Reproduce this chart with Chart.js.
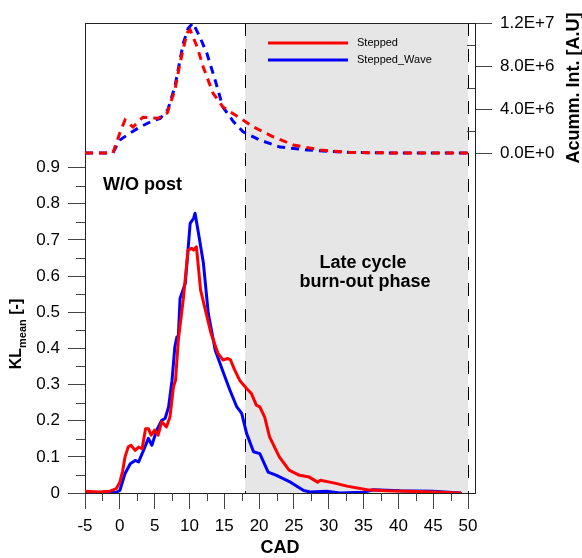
<!DOCTYPE html>
<html>
<head>
<meta charset="utf-8">
<script src="https://cdn.jsdelivr.net/npm/chart.js@4.4.1/dist/chart.umd.min.js"></script>
<style>
  body { margin: 0; background: #fff; }
  canvas { display: block; }
</style>
</head>
<body>
<canvas id="klChart" width="582" height="558"></canvas>
<script>
// KL mean [-] (solid lines, left axis)
const steppedCad = [-5, -3, -1.4, -0.5, 0, 0.4, 0.75, 1.2, 1.6, 2.2, 2.7, 3.2, 3.7, 4.1, 4.5, 5.0, 5.5, 6.0, 6.7, 7.2, 7.7, 8.0, 8.4, 9.1, 9.8, 10.3, 10.6, 11.0, 11.6, 12.4, 13.1, 14.1, 14.8, 15.5, 15.9, 16.5, 17.2, 18.2, 18.9, 19.6, 20.1, 20.8, 21.5, 22.9, 24.3, 25.8, 27.2, 28.4, 28.8, 30.7, 32.6, 35.5, 38.3, 42.7, 45, 48.9];
const steppedKl = [0.005, 0.003, 0.005, 0.012, 0.03, 0.06, 0.1, 0.127, 0.132, 0.118, 0.127, 0.123, 0.178, 0.178, 0.16, 0.174, 0.16, 0.197, 0.183, 0.21, 0.294, 0.312, 0.423, 0.534, 0.672, 0.677, 0.672, 0.681, 0.561, 0.497, 0.441, 0.386, 0.368, 0.372, 0.368, 0.34, 0.312, 0.289, 0.275, 0.243, 0.238, 0.21, 0.155, 0.1, 0.063, 0.049, 0.044, 0.03, 0.035, 0.028, 0.019, 0.009, 0.006, 0.004, 0.003, 0.0];
const waveCad = [-5, -1.4, -0.5, 0, 0.75, 1.5, 2.2, 2.7, 3.4, 4.1, 4.6, 5.3, 6.0, 6.5, 7.0, 7.5, 7.9, 8.2, 8.4, 8.65, 9.4, 10.1, 10.6, 10.8, 11.3, 12.0, 12.7, 13.7, 14.9, 15.8, 16.8, 17.5, 18.2, 19.2, 20.1, 21.3, 22.5, 24.5, 26.4, 27.3, 29.7, 31.6, 35, 36.4, 40.3, 45, 48.9];
const waveKl = [0, 0, 0.002, 0.007, 0.054, 0.081, 0.09, 0.086, 0.118, 0.151, 0.132, 0.174, 0.201, 0.206, 0.238, 0.312, 0.404, 0.432, 0.432, 0.538, 0.58, 0.746, 0.76, 0.774, 0.718, 0.636, 0.497, 0.395, 0.331, 0.285, 0.238, 0.22, 0.165, 0.114, 0.109, 0.058, 0.049, 0.03, 0.007, 0.003, 0.005, 0.0, 0.002, 0.009, 0.006, 0.005, 0.0];

// Acumm. Int. [A.U] (dashed lines, right axis)
const steppedIntCad = [-5, -1, 0, 0.75, 1.9, 3.3, 5.5, 6.8, 7.9, 8.65, 9.65, 10.1, 11.1, 12.0, 13.4, 14.8, 17.3, 19.2, 22.0, 24.9, 28.8, 33, 40, 50];
const steppedInt = [0, 0, 1.85e6, 3.05e6, 2.4e6, 3.3e6, 3.2e6, 3.7e6, 5.8e6, 8.3e6, 11.1e6, 11.35e6, 9.8e6, 7.9e6, 5.5e6, 4.25e6, 3.2e6, 2.4e6, 1.5e6, 0.74e6, 0.28e6, 0.05e6, 0, 0];
const waveIntCad = [-5, -1, 0, 1.5, 2.9, 4.8, 5.8, 6.9, 7.9, 9.1, 9.8, 10.5, 11.5, 12.5, 13.7, 14.8, 16.3, 17.7, 20.1, 23.0, 26.9, 33, 40, 50];
const waveInt = [0, 0, 1.2e6, 1.85e6, 2.4e6, 3.0e6, 3.2e6, 4.0e6, 6.1e6, 10.1e6, 11.5e6, 12.0e6, 10.7e6, 9.2e6, 6.7e6, 4.25e6, 2.9e6, 1.95e6, 1.2e6, 0.55e6, 0.28e6, 0.05e6, 0, 0];

// right axis only covers the top band of the plot
const rightTicks = [0, 2e6, 4e6, 6e6, 8e6, 10e6, 12e6];
const lateCycle = [18, 50];
const seriesNames = ['Stepped', 'Stepped_Wave'];
const RED = 'rgb(255,0,0)';
const BLUE = 'rgb(0,0,255)';
const FONT = '"Liberation Sans", Arial, sans-serif';

function pts(xs, ys) {
    return xs.map((x, i) => ({x: x, y: ys[i]}));
}
function isMult(v, step) {
    return Math.abs(v / step - Math.round(v / step)) < 1e-6;
}

// shaded late cycle zone with dashed limits
const phasePlugin = {
    id: 'phase',
    beforeDatasetsDraw(chart) {
        const ctx = chart.ctx, a = chart.chartArea, x = chart.scales.x;
        const x0 = x.getPixelForValue(lateCycle[0]);
        const x1 = x.getPixelForValue(lateCycle[1]);
        ctx.save();
        ctx.fillStyle = '#e6e6e6';
        ctx.fillRect(x0, a.top, x1 - x0, a.bottom - a.top);
        ctx.strokeStyle = '#000';
        ctx.lineWidth = 1;
        ctx.setLineDash([13, 13]);
        [x0, x1].forEach(px => {
            ctx.beginPath();
            ctx.moveTo(Math.round(px) + 0.5, a.top);
            ctx.lineTo(Math.round(px) + 0.5, a.bottom);
            ctx.stroke();
        });
        ctx.restore();
    }
};

// minor ticks, frame, titles, notes, legend
const extrasPlugin = {
    id: 'extras',
    afterDraw(chart) {
        const ctx = chart.ctx, a = chart.chartArea;
        const x = chart.scales.x, y = chart.scales.y, y2 = chart.scales.y2;
        ctx.save();
        ctx.strokeStyle = '#444';
        ctx.lineWidth = 1;
        ctx.beginPath();
        for (let v = -2.5; v < 50; v += 5) {
            const px = Math.round(x.getPixelForValue(v)) + 0.5;
            ctx.moveTo(px, a.bottom); ctx.lineTo(px, a.bottom + 8);
        }
        for (let v = 0.05; v < 0.9; v += 0.1) {
            const py = Math.round(y.getPixelForValue(v)) + 0.5;
            ctx.moveTo(a.left - 9, py); ctx.lineTo(a.left, py);
        }
        rightTicks.filter(v => !isMult(v, 4e6)).forEach(v => {
            const py = Math.round(y2.getPixelForValue(v)) + 0.5;
            ctx.moveTo(a.right - 8, py); ctx.lineTo(a.right, py);
        });
        ctx.stroke();
        // top frame line
        ctx.strokeStyle = '#222';
        ctx.beginPath();
        ctx.moveTo(a.left, a.top + 0.5); ctx.lineTo(a.right, a.top + 0.5);
        ctx.stroke();

        ctx.fillStyle = '#000';
        // x title
        ctx.font = 'bold 18px ' + FONT;
        ctx.textAlign = 'center';
        ctx.textBaseline = 'middle';
        ctx.fillText('CAD', (a.left + a.right) / 2, 548);

        // left title KL_mean [-]
        ctx.save();
        ctx.translate(17, 334);
        ctx.rotate(-Math.PI / 2);
        ctx.textBaseline = 'middle';
        ctx.textAlign = 'left';
        const big = 'bold 16px ' + FONT, small = 'bold 11px ' + FONT;
        ctx.font = big; const wKL = ctx.measureText('KL').width;
        const wRest = ctx.measureText(' [-]').width;
        ctx.font = small; const wSub = ctx.measureText('mean').width;
        let sx = -(wKL + wSub + wRest) / 2;
        ctx.font = big; ctx.fillText('KL', sx, 0); sx += wKL;
        ctx.font = small; ctx.fillText('mean', sx, 6); sx += wSub;
        ctx.font = big; ctx.fillText(' [-]', sx, 0);
        ctx.restore();

        // right title
        ctx.save();
        ctx.translate(574, (y2.getPixelForValue(0) + y2.getPixelForValue(1.2e7)) / 2);
        ctx.rotate(-Math.PI / 2);
        ctx.font = 'bold 18px ' + FONT;
        ctx.textAlign = 'center';
        ctx.textBaseline = 'middle';
        ctx.fillText('Acumm. Int. [A.U]', 0, 0);
        ctx.restore();

        // notes
        ctx.textBaseline = 'alphabetic';
        ctx.font = 'bold 18px ' + FONT;
        ctx.textAlign = 'left';
        ctx.fillText('W/O post', 103, 190);
        ctx.textAlign = 'center';
        ctx.fillText('Late cycle', 363, 268);
        ctx.fillText('burn-out phase', 365, 287);

        // legend
        ctx.font = '11px ' + FONT;
        ctx.textAlign = 'left';
        ctx.textBaseline = 'middle';
        ctx.lineWidth = 3;
        [0, 1].forEach(i => {
            const ly = 43 + i * 17;
            ctx.strokeStyle = chart.data.datasets[i].borderColor;
            ctx.beginPath(); ctx.moveTo(268, ly); ctx.lineTo(348, ly); ctx.stroke();
            ctx.fillText(seriesNames[i], 357, ly);
        });
        ctx.restore();
    }
};

const tickFont = {family: FONT, size: 17};
const solid = {borderWidth: 3, borderJoinStyle: 'round', borderCapStyle: 'round'};

const config = {
    type: 'line',
    data: {
        datasets: [
            {label: seriesNames[0], data: pts(steppedCad, steppedKl), yAxisID: 'y', borderColor: RED, ...solid},
            {label: seriesNames[1], data: pts(waveCad, waveKl), yAxisID: 'y', borderColor: BLUE, ...solid},
            {label: 'Stepped int', data: pts(steppedIntCad, steppedInt), yAxisID: 'y2', borderColor: RED, borderWidth: 3, borderDash: [8, 6]},
            {label: 'Stepped_Wave int', data: pts(waveIntCad, waveInt), yAxisID: 'y2', borderColor: BLUE, borderWidth: 3, borderDash: [8, 6]}
        ]
    },
    options: {
        responsive: false,
        animation: false,
        devicePixelRatio: 1,
        layout: {padding: {top: 23, left: 0, right: 0, bottom: 0}},
        elements: {point: {radius: 0}, line: {tension: 0, fill: false}},
        scales: {
            x: {
                type: 'linear',
                min: -5,
                max: 51,
                afterFit: s => { s.height = 65; },
                border: {display: true, color: '#222', width: 1},
                grid: {
                    drawOnChartArea: false,
                    tickLength: 16,
                    tickColor: c => isMult(c.tick.value, 5) ? '#444' : 'rgba(0,0,0,0)'
                },
                ticks: {
                    stepSize: 2.5,
                    includeBounds: false,
                    autoSkip: false,
                    maxRotation: 0,
                    padding: 7,
                    color: '#000',
                    font: tickFont,
                    callback: v => isMult(v, 5) ? String(v) : ''
                }
            },
            y: {
                type: 'linear',
                position: 'left',
                min: 0,
                max: 1.3,
                afterFit: s => { s.width = 85; },
                border: {display: true, color: '#222', width: 1},
                grid: {
                    drawOnChartArea: false,
                    tickLength: 17,
                    tickColor: c => (isMult(c.tick.value, 0.1) && c.tick.value < 0.95) ? '#444' : 'rgba(0,0,0,0)'
                },
                ticks: {
                    stepSize: 0.05,
                    includeBounds: false,
                    autoSkip: false,
                    padding: 8,
                    color: '#000',
                    font: tickFont,
                    callback: v => (isMult(v, 0.1) && v < 0.95) ? (v === 0 ? '0' : v.toFixed(1)) : ''
                }
            },
            y2: {
                type: 'linear',
                position: 'right',
                min: -3.138e7,
                max: 1.2e7,
                afterFit: s => { s.width = 107; },
                afterBuildTicks: s => { s.ticks = rightTicks.map(v => ({value: v})); },
                border: {display: true, color: '#222', width: 1},
                grid: {
                    drawOnChartArea: false,
                    tickLength: 17,
                    tickColor: c => isMult(c.tick.value, 4e6) ? '#444' : 'rgba(0,0,0,0)'
                },
                ticks: {
                    autoSkip: false,
                    padding: 8,
                    color: '#000',
                    font: tickFont,
                    callback: v => isMult(v, 4e6) ? v.toExponential(1).toUpperCase() : ''
                }
            }
        },
        plugins: {
            legend: {display: false},
            tooltip: {enabled: false}
        }
    },
    plugins: [phasePlugin, extrasPlugin]
};

new Chart(document.getElementById('klChart'), config);
</script>
</body>
</html>
